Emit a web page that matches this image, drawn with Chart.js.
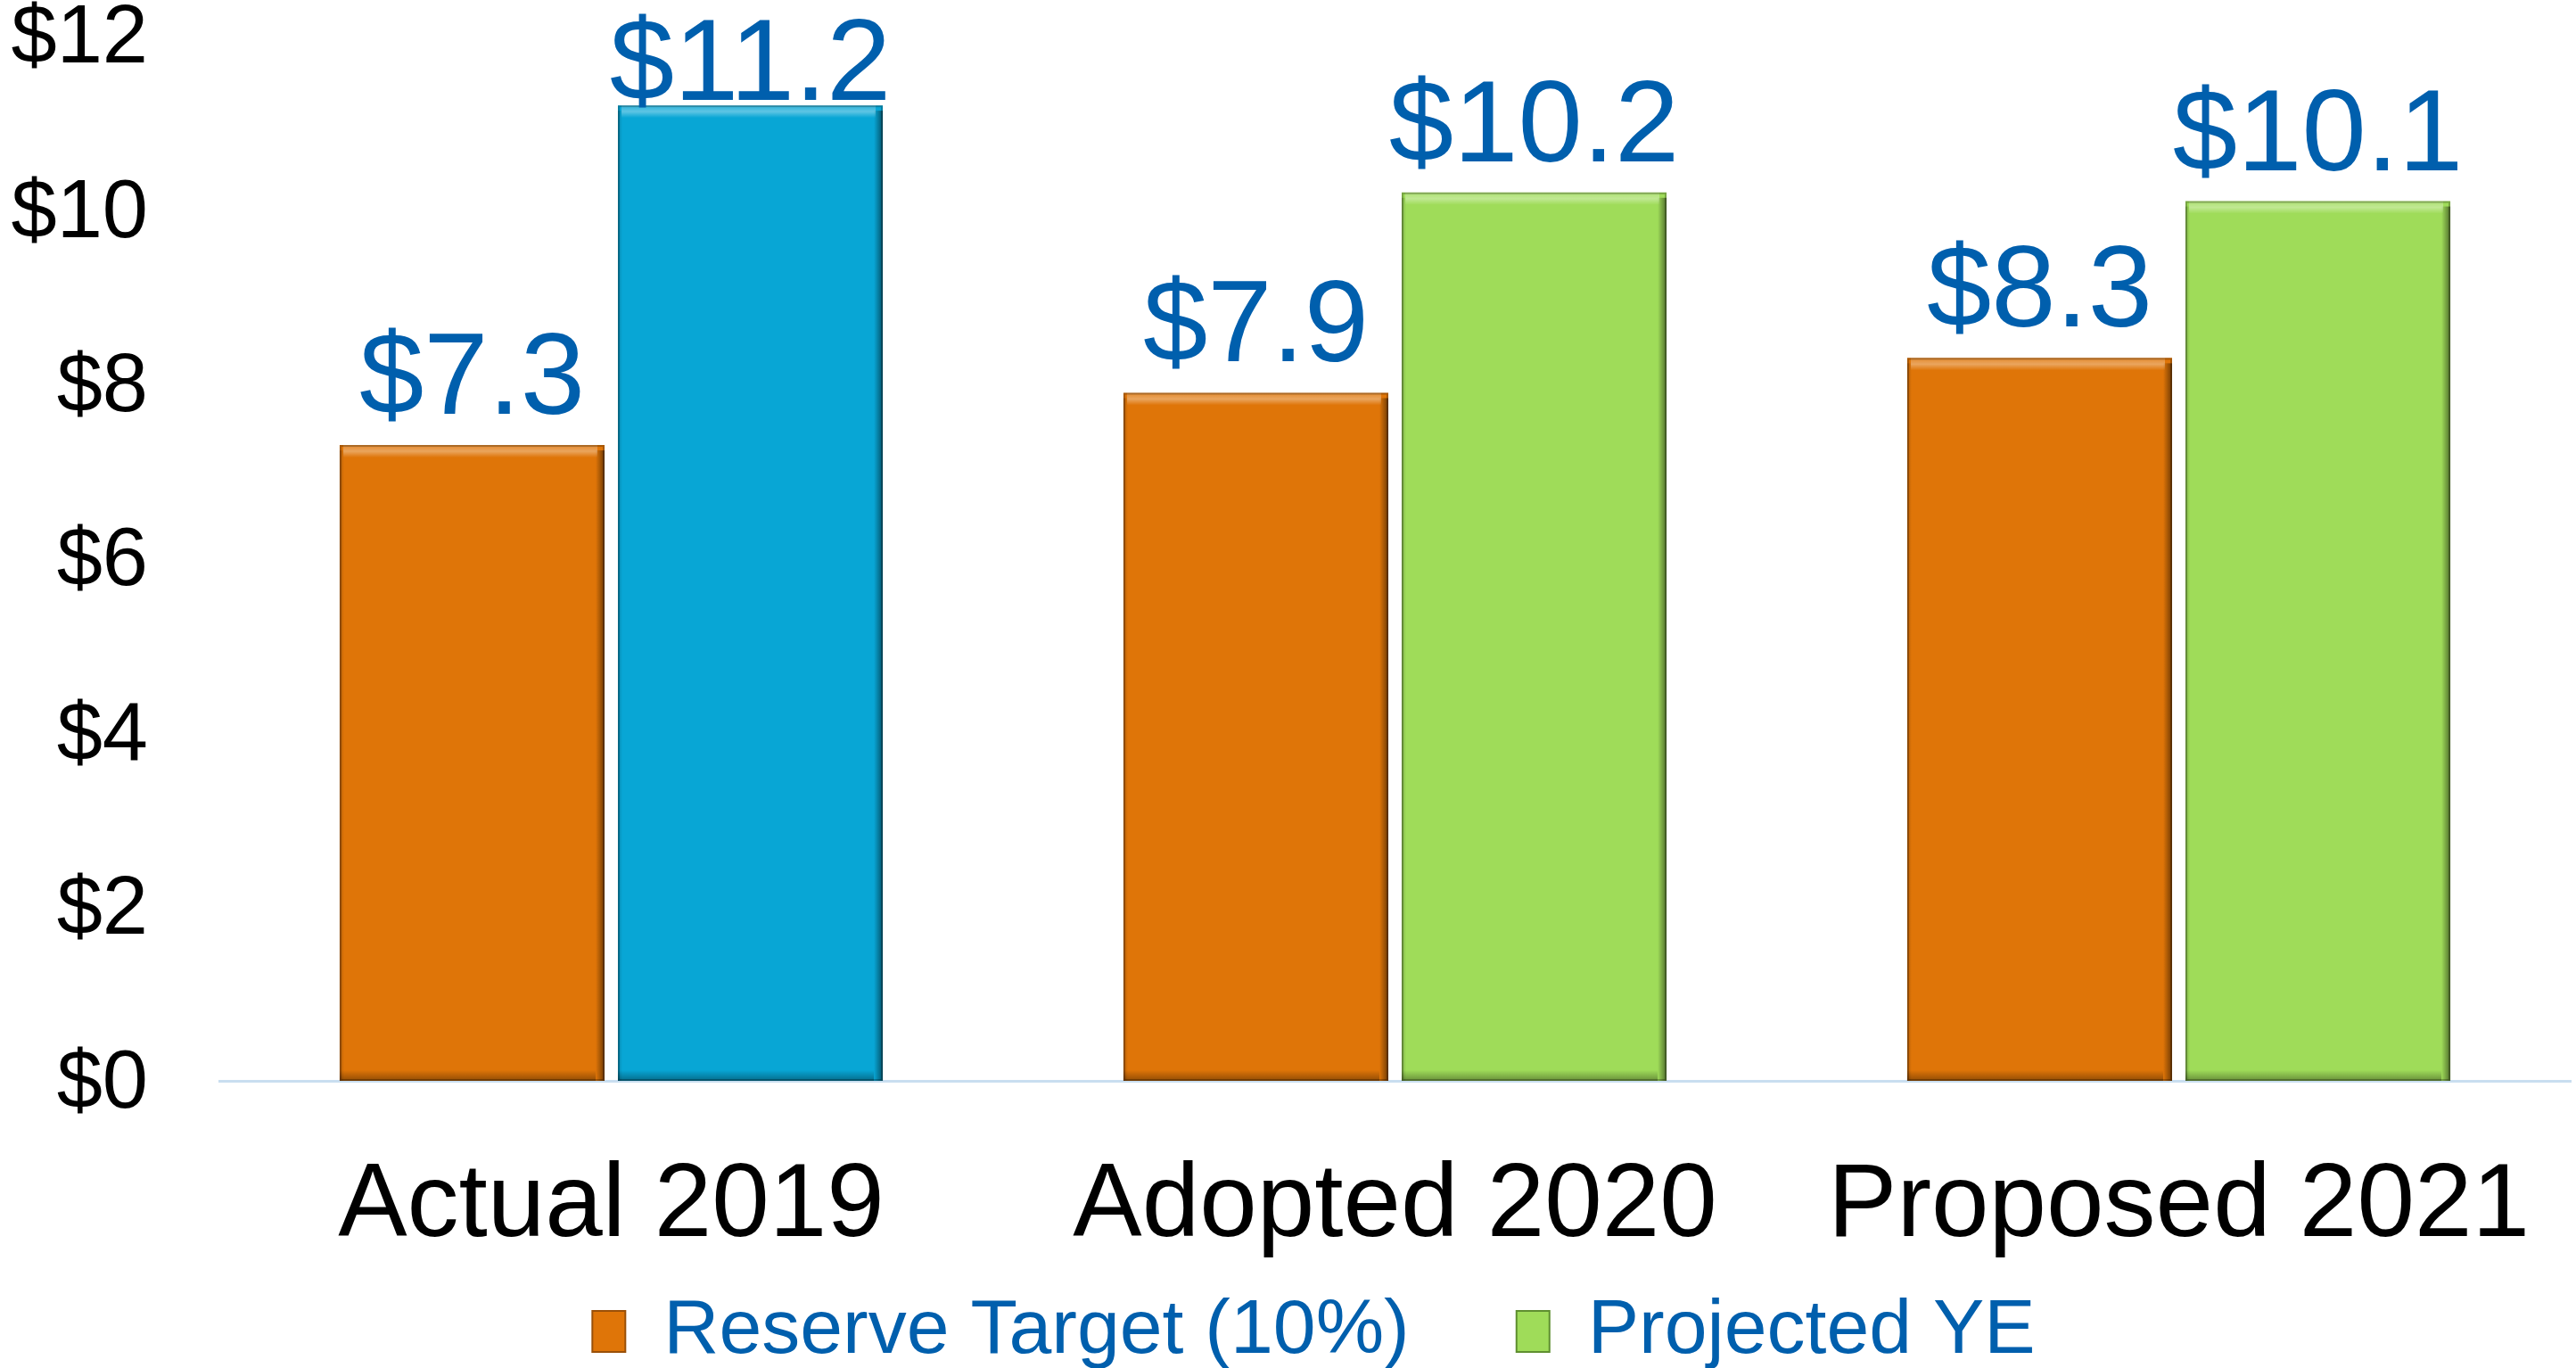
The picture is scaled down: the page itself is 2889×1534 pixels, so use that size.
<!DOCTYPE html>
<html>
<head>
<meta charset="utf-8">
<script src="https://cdn.jsdelivr.net/npm/chart.js@4/dist/chart.umd.min.js"></script>
<style>
  html, body { margin: 0; padding: 0; background: #fff; }
  #chartcontainer { width: 2889px; height: 1534px; }
</style>
</head>
<body>
<div id="chartcontainer"><canvas id="barChart"></canvas></div>
<script>
// data
const categories = ['Actual 2019', 'Adopted 2020', 'Proposed 2021'];
const reserveTarget = [7.3, 7.9, 8.3];
const projectedYE = [11.2, 10.2, 10.1];
const seriesNames = ['Reserve Target (10%)', 'Projected YE'];
const yTicks = [0, 2, 4, 6, 8, 10, 12];

const FONT = '"Liberation Sans", Arial, sans-serif';
const orange = '#DF7508';
const blue = '#08A6D5';
const green = '#9FDC59';
const labelBlue = '#005FAD';

// bevel look on each bar
const bevelPlugin = {
  id: 'bevel',
  afterDatasetsDraw(chart) {
    const ctx = chart.ctx;
    chart.data.datasets.forEach((ds, i) => {
      chart.getDatasetMeta(i).data.forEach(bar => {
        const l = bar.x - bar.width / 2, r = bar.x + bar.width / 2;
        const t = bar.y, b = bar.base;
        ctx.save();
        // light top band
        let g = ctx.createLinearGradient(0, t, 0, t + 14);
        g.addColorStop(0, 'rgba(255,255,255,0.15)');
        g.addColorStop(0.5, 'rgba(255,255,255,0.35)');
        g.addColorStop(1, 'rgba(255,255,255,0)');
        ctx.fillStyle = g;
        ctx.fillRect(l + 4, t, r - l - 12, 14);
        // dark right edge
        g = ctx.createLinearGradient(r - 10, 0, r, 0);
        g.addColorStop(0, 'rgba(0,0,0,0)');
        g.addColorStop(1, 'rgba(0,0,0,0.5)');
        ctx.fillStyle = g;
        ctx.fillRect(r - 10, t + 6, 10, b - t - 6);
        // dark bottom edge
        g = ctx.createLinearGradient(0, b - 12, 0, b);
        g.addColorStop(0, 'rgba(0,0,0,0)');
        g.addColorStop(1, 'rgba(0,0,0,0.35)');
        ctx.fillStyle = g;
        ctx.fillRect(l, b - 12, r - l - 10, 12);
        // slight left edge
        g = ctx.createLinearGradient(l, 0, l + 5, 0);
        g.addColorStop(0, 'rgba(0,0,0,0.2)');
        g.addColorStop(1, 'rgba(0,0,0,0)');
        ctx.fillStyle = g;
        ctx.fillRect(l, t + 6, 5, b - t - 6);
        ctx.strokeStyle = 'rgba(0,0,0,0.25)';
        ctx.lineWidth = 2;
        ctx.strokeRect(l + 1, t + 1, r - l - 2, b - t - 2);
        ctx.restore();
      });
    });
  }
};

// value labels above bars
const valueLabels = {
  id: 'valueLabels',
  afterDatasetsDraw(chart) {
    const ctx = chart.ctx;
    ctx.save();
    ctx.font = '130px ' + FONT;
    ctx.fillStyle = labelBlue;
    ctx.textAlign = 'center';
    ctx.textBaseline = 'alphabetic';
    chart.data.datasets.forEach((ds, i) => {
      chart.getDatasetMeta(i).data.forEach((bar, j) => {
        const y = Math.max(bar.y - 35, 112);
        ctx.fillText('$' + ds.data[j].toFixed(1), bar.x, y);
      });
    });
    ctx.restore();
  }
};

// legend: small reserved height, wide item spacing, placed by hand
const legendPlace = {
  id: 'legendPlace',
  afterInit(chart) {
    const lg = chart.legend;
    const fit = lg.fit.bind(lg);
    lg.fit = () => { fit(); lg.height = 101; };
  },
  afterLayout(chart) {
    const lg = chart.legend;
    lg.top = 1330;
    lg.bottom = lg.top + 207;
    lg.left += 32;
    lg.right += 32;
  }
};

const ctx = document.getElementById('barChart').getContext('2d');
new Chart(ctx, {
  type: 'bar',
  data: {
    labels: categories,
    datasets: [
      {
        label: seriesNames[0],
        data: reserveTarget,
        backgroundColor: orange,
        categoryPercentage: 0.71,
        barPercentage: 0.952
      },
      {
        label: seriesNames[1],
        data: projectedYE,
        backgroundColor: [blue, green, green],
        categoryPercentage: 0.71,
        barPercentage: 0.952
      }
    ]
  },
  options: {
    responsive: true,
    maintainAspectRatio: false,
    animation: false,
    layout: { padding: { left: 0, right: 6, top: 0, bottom: 0 } },
    plugins: {
      tooltip: { enabled: false },
      legend: {
        position: 'bottom',
        labels: {
          font: { family: FONT, size: 86 },
          color: labelBlue,
          boxWidth: 37,
          boxHeight: 46,
          padding: 120,
          generateLabels(chart) {
            const items = Chart.defaults.plugins.legend.labels.generateLabels(chart);
            const fills = [orange, green];
            const edges = ['#9a5008', '#5f8f30'];
            items.forEach((it, k) => {
              it.fillStyle = fills[k];
              it.strokeStyle = edges[k];
              it.lineWidth = 2;
            });
            return items;
          }
        }
      }
    },
    scales: {
      x: {
        grid: { display: false, drawTicks: false },
        border: { display: true, color: '#C9DEF0', width: 3 },
        afterFit(s) { s.height = 221; s.paddingLeft = 0; s.paddingRight = 0; },
        ticks: {
          font: { family: FONT, size: 116 },
          color: '#000',
          padding: 72,
          maxRotation: 0
        }
      },
      y: {
        min: 0,
        max: 12,
        grid: { display: false, drawTicks: false },
        border: { display: false },
        afterBuildTicks(s) { s.ticks = yTicks.map(v => ({ value: v })); },
        afterFit(s) { s.width = 246; s.paddingTop = 40; },
        ticks: {
          font: { family: FONT, size: 92 },
          color: '#000',
          padding: 80,
          labelOffset: 5,
          callback: v => '$' + v
        }
      }
    }
  },
  plugins: [bevelPlugin, valueLabels, legendPlace]
});
</script>
</body>
</html>
